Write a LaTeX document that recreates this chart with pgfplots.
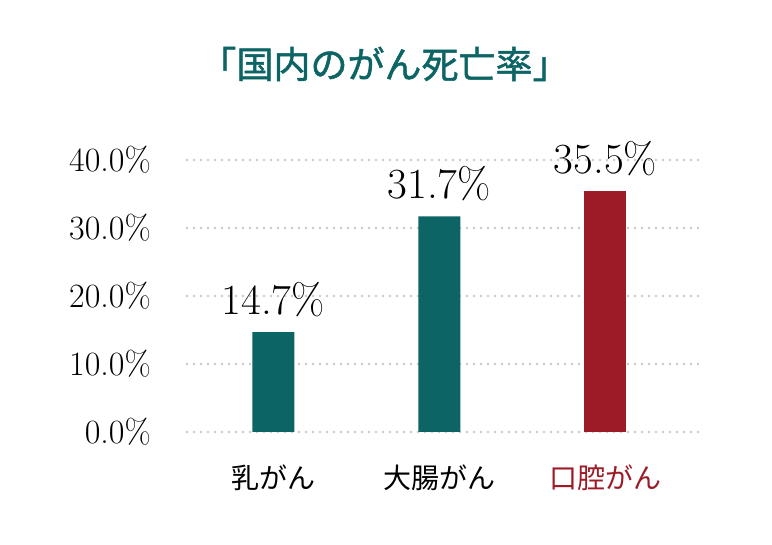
\documentclass[border=0pt]{standalone}
\usepackage{pgfplots}
\pgfplotsset{compat=1.18}
\usepackage{fontspec}
\newfontfamily\jp{Noto Sans CJK JP}
\newfontfamily\jpt[FakeBold=1.3]{Noto Sans CJK JP}
\definecolor{teal1}{HTML}{0D6465}
\definecolor{red1}{HTML}{9C1B27}
\definecolor{gridc}{HTML}{C8C8C8}
\begin{document}
\begin{tikzpicture}
\path[use as bounding box] (0,0) rectangle (772pt,545pt);
\begin{axis}[
  at={(187pt,113pt)}, anchor=south west,
  scale only axis, width=513pt, height=272pt,
  xmin=-0.52, xmax=2.57, ymin=0, ymax=40,
  axis line style={draw=none}, tick style={draw=none},
  /pgf/number format/assume math mode=true,
  ytick={0,10,20,30,40},
  yticklabel={\pgfmathprintnumber[fixed,fixed zerofill,precision=1]{\tick}\%},
  yticklabel style={inner sep=0pt, xshift=-36pt, font=\fontsize{34}{38}\selectfont},
  xtick={0,1,2},
  xticklabels={乳がん,大腸がん,{\color{red1}口腔がん}},
  xticklabel style={inner sep=0pt, yshift=-28pt, font=\jp\fontsize{28}{30}\selectfont},
  ymajorgrids,
  grid style={gridc, line width=2.6pt, dash pattern=on 0pt off 7pt, line cap=round},
  ybar, bar width=42pt, bar shift=0pt,
  clip=false,
  nodes near coords={\pgfmathprintnumber[fixed,fixed zerofill,precision=1]{\pgfplotspointmeta}\%},
  nodes near coords style={font=\fontsize{43}{46}\selectfont, black, inner sep=0pt, anchor=south, yshift=15pt},
  title={「国内のがん死亡率」},
  title style={font=\jpt\fontsize{37}{40}\selectfont, text=teal1, at={(0.5,1)}, anchor=center, yshift=90pt, xshift=-59pt},
]
\addplot[fill=teal1, draw=none] coordinates {(0,14.7) (1,31.7)};
\addplot[fill=red1, draw=none] coordinates {(2,35.5)};
\end{axis}
\end{tikzpicture}
\end{document}
